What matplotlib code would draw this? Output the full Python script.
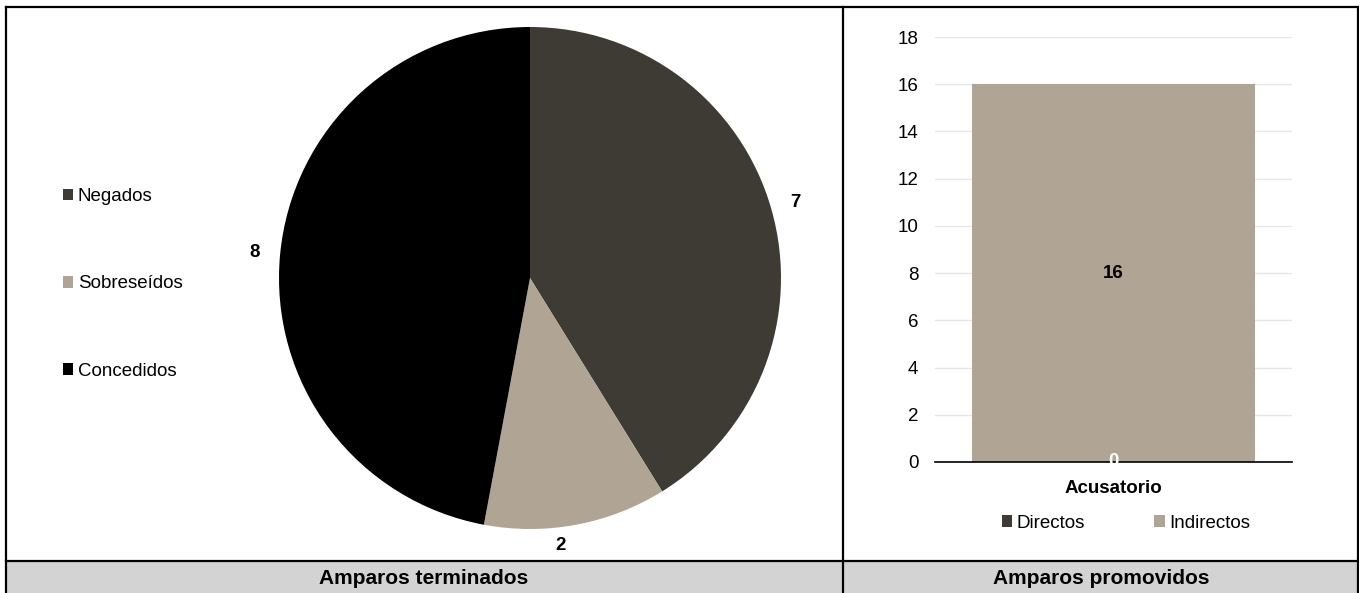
import matplotlib
matplotlib.use("Agg")
import matplotlib.pyplot as plt
from matplotlib.patches import Rectangle
from matplotlib.lines import Line2D

plt.rcParams['font.family'] = ['Liberation Sans', 'DejaVu Sans']

# data
pie_labels = ['Negados', 'Sobreseídos', 'Concedidos']
pie_values = [7, 2, 8]
pie_colors = ['#3e3b34', '#b0a595', '#000000']

bar_category = ['Acusatorio']
directos = [0]
indirectos = [16]
bar_colors = ['#3e3b34', '#b0a595']

W, H = 1359, 593
fs = 13.5
fig = plt.figure(figsize=(W / 100, H / 100), dpi=100)


def px_axes(x0, y0, x1, y1):
    # pixel box (top-left origin) -> figure axes
    return fig.add_axes([x0 / W, 1 - y1 / H, (x1 - x0) / W, (y1 - y0) / H])


# pie chart
cx, cy, r = 530, 278, 251
pax = px_axes(cx - r, cy - r, cx + r, cy + r)
wedges, texts = pax.pie(pie_values, colors=pie_colors, startangle=90, counterclock=False,
                        labels=[str(v) for v in pie_values], labeldistance=1.10,
                        wedgeprops=dict(linewidth=0), textprops=dict(fontsize=fs, fontweight='bold'))
for t in texts:
    t.set_ha('center')
    t.set_va('center')
# nudge the small slice label, as Excel does
px_, py_ = texts[1].get_position()
texts[1].set_position((px_ * 0.6, py_ * 0.985))
pax.set_xlim(-1, 1)
pax.set_ylim(-1, 1)

fig.legend(wedges, pie_labels, loc='center left', bbox_to_anchor=(46 / W, 1 - 284 / H),
           frameon=False, fontsize=fs, labelspacing=3.74, handlelength=0.55, handleheight=0.55,
           handletextpad=0.25)

# bar chart
bax = px_axes(935, 37, 1292, 462)
x = range(len(bar_category))
b1 = bax.bar(x, directos, width=1.0, color=bar_colors[0], label='Directos')
b2 = bax.bar(x, indirectos, width=1.0, bottom=directos, color=bar_colors[1], label='Indirectos')
bax.bar_label(b1, labels=[str(v) for v in directos], label_type='center', color='white',
              fontsize=fs, fontweight='bold')
bax.bar_label(b2, labels=[str(v) for v in indirectos], label_type='center', color='black',
              fontsize=fs, fontweight='bold')
bax.set_xlim(-0.63, 0.63)
bax.set_ylim(0, 18)
bax.set_yticks(range(0, 19, 2))
bax.set_xticks(list(x))
bax.set_xticklabels(bar_category, fontsize=fs, fontweight='bold')
bax.tick_params(axis='y', length=0, labelsize=fs, pad=12)
bax.tick_params(axis='x', length=0, pad=13)
bax.grid(axis='y', color='#e6e6e6', linewidth=1)
bax.set_axisbelow(True)
for s in ['top', 'right', 'left']:
    bax.spines[s].set_visible(False)
bax.spines['bottom'].set_linewidth(1.2)
fig.legend([b1, b2], ['Directos', 'Indirectos'], loc='center', ncol=2,
           bbox_to_anchor=(1126 / W, 1 - 523 / H), frameon=False, fontsize=fs,
           handlelength=0.55, handleheight=0.55, handletextpad=0.25, columnspacing=3.7)

# table frame
frame = fig.add_axes([0, 0, 1, 1], zorder=-1)
frame.set_xlim(0, W)
frame.set_ylim(H, 0)
frame.axis('off')
frame.add_patch(Rectangle((6, 561), W - 6, H - 561, facecolor='#d3d3d3', edgecolor='none'))
lw = 1.6
frame.add_line(Line2D([6, W], [7, 7], color='black', lw=lw))
frame.add_line(Line2D([6, 6], [7, H], color='black', lw=lw))
frame.add_line(Line2D([W - 1.5, W - 1.5], [7, H], color='black', lw=lw))
frame.add_line(Line2D([843, 843], [7, H], color='black', lw=lw))
frame.add_line(Line2D([6, W], [561, 561], color='black', lw=lw))
frame.text(424, 578, 'Amparos terminados', ha='center', va='center', fontsize=15, fontweight='bold')
frame.text(1101, 578, 'Amparos promovidos', ha='center', va='center', fontsize=15, fontweight='bold')

fig.savefig('out.png', dpi=100)
